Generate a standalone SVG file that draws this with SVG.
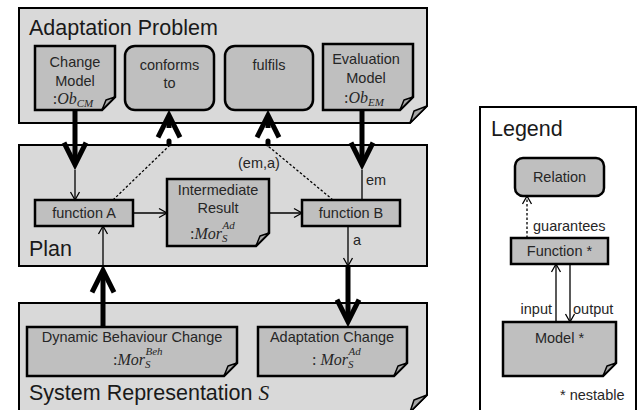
<svg xmlns="http://www.w3.org/2000/svg" width="638" height="410" viewBox="0 0 638 410">
<defs>
<style>
.cont{fill:#d9d9d9;stroke:#000;stroke-width:2}
.node{fill:#bfbfbf;stroke:#000;stroke-width:2.5;stroke-linejoin:miter}
.fold{fill:#a6a6a6;stroke:#000;stroke-width:1.5;stroke-linejoin:round}
.t{font-family:"Liberation Sans",Arial,sans-serif;font-size:14.5px;fill:#262626}
.title{font-family:"Liberation Sans",Arial,sans-serif;font-size:21.5px;fill:#1a1a1a}
.m{font-family:"Liberation Serif","Times New Roman",serif;font-size:16px;font-style:italic;fill:#262626}
.thick{fill:none;stroke:#000;stroke-width:5}
.thin{fill:none;stroke:#000;stroke-width:1.3}
.dot{fill:none;stroke:#000;stroke-width:1.3;stroke-dasharray:2.5 2}
</style>
<marker id="big" markerUnits="userSpaceOnUse" orient="auto" markerWidth="1" markerHeight="1" refX="0" refY="0" overflow="visible">
<path d="M-19.4,-11 L2.6,0 L-19.4,11" fill="none" stroke="#000" stroke-width="5" stroke-linejoin="miter"/>
</marker>
<marker id="sm" markerUnits="userSpaceOnUse" orient="auto" markerWidth="1" markerHeight="1" refX="0" refY="0" overflow="visible">
<path d="M-8,-4.5 L0,0 L-8,4.5" fill="none" stroke="#000" stroke-width="1.3"/>
</marker>
</defs>
<rect width="638" height="410" fill="#fff"/>

<g id="adaptation-problem">
<path class="cont" d="M19,8 H427 V106 L410,123 H19 Z"/>
<path class="fold" d="M410,123 L414,111 L427,106 Z"/>
<text class="title" x="29" y="35">Adaptation Problem</text>
</g>
<g id="plan">
<rect class="cont" x="19" y="145" width="408" height="121"/>
<text class="title" x="29" y="256">Plan</text>
</g>
<g id="system-representation">
<path class="cont" d="M19,303 H427 V395 L410,412 H19 Z"/>
<path class="fold" d="M410,412 L414,400 L427,395 Z"/>
<text class="title" x="29" y="400">System Representation <tspan font-family="Liberation Serif,serif" font-style="italic">S</tspan></text>
</g>

<g id="change-model">
<path class="node" d="M35,46 H115 V97 L102,110 H35 Z"/>
<path class="fold" d="M102,110 L106,100 L115,97 Z"/>
<text class="t" text-anchor="middle" x="75" y="67">Change</text>
<text class="t" text-anchor="middle" x="75" y="86">Model</text>
<text class="m" text-anchor="middle" x="73" y="104"><tspan font-style="normal">:</tspan>Ob<tspan font-size="11" dy="3">CM</tspan></text>
</g>
<g id="conforms-to">
<rect class="node" x="125" y="46" width="89" height="64" rx="10"/>
<text class="t" text-anchor="middle" x="169.5" y="70">conforms</text>
<text class="t" text-anchor="middle" x="169.5" y="88">to</text>
</g>
<g id="fulfils">
<rect class="node" x="225" y="46" width="88" height="64" rx="10"/>
<text class="t" text-anchor="middle" x="269" y="70">fulfils</text>
</g>
<g id="evaluation-model">
<path class="node" d="M323,44 H413 V97 L400,110 H323 Z"/>
<path class="fold" d="M400,110 L404,100 L413,97 Z"/>
<text class="t" text-anchor="middle" x="366" y="64">Evaluation</text>
<text class="t" text-anchor="middle" x="366" y="83">Model</text>
<text class="m" text-anchor="middle" x="364" y="103"><tspan font-style="normal">:</tspan>Ob<tspan font-size="11" dy="3">EM</tspan></text>
</g>

<g id="function-a">
<rect class="node" x="35" y="200" width="98" height="26"/>
<text class="t" text-anchor="middle" x="84" y="218">function A</text>
</g>
<g id="intermediate-result">
<path class="node" d="M167,179 H269 V233 L256,246 H167 Z"/>
<path class="fold" d="M256,246 L260,236 L269,233 Z"/>
<text class="t" text-anchor="middle" x="218" y="195">Intermediate</text>
<text class="t" text-anchor="middle" x="218" y="213">Result</text>
<text class="m" x="190" y="239"><tspan font-style="normal">:</tspan>Mor<tspan font-size="11" dy="3">S</tspan><tspan font-size="11" dx="-5" dy="-13">Ad</tspan></text>
</g>
<g id="function-b">
<rect class="node" x="302" y="200" width="98" height="26"/>
<text class="t" text-anchor="middle" x="351" y="218">function B</text>
</g>

<g id="dynamic-behaviour-change">
<path class="node" d="M27,327 H237 V363 L224,376 H27 Z"/>
<path class="fold" d="M224,376 L228,366 L237,363 Z"/>
<text class="t" text-anchor="middle" x="132" y="342">Dynamic Behaviour Change</text>
<text class="m" x="113" y="365"><tspan font-style="normal">:</tspan>Mor<tspan font-size="11" dy="3">S</tspan><tspan font-size="11" dx="-5" dy="-13">Beh</tspan></text>
</g>
<g id="adaptation-change">
<path class="node" d="M258,327 H407 V363 L394,376 H258 Z"/>
<path class="fold" d="M394,376 L398,366 L407,363 Z"/>
<text class="t" text-anchor="middle" x="332" y="342">Adaptation Change</text>
<text class="m" x="312" y="365"><tspan font-style="normal">: </tspan>Mor<tspan font-size="11" dy="3">S</tspan><tspan font-size="11" dx="-5" dy="-13">Ad</tspan></text>
</g>

<g id="legend">
<rect fill="#fff" stroke="#000" stroke-width="2" x="480" y="107" width="156" height="306"/>
<text class="title" x="491" y="136" font-size="20">Legend</text>
<g id="legend-relation">
<rect class="node" x="515" y="158" width="89" height="38" rx="8"/>
<text class="t" text-anchor="middle" x="559.5" y="182">Relation</text>
</g>
<g id="legend-function">
<rect class="node" x="511" y="238" width="97" height="26"/>
<text class="t" text-anchor="middle" x="559.5" y="256">Function *</text>
</g>
<g id="legend-model">
<path class="node" d="M503,322 H616 V363 L603,376 H503 Z"/>
<path class="fold" d="M603,376 L607,366 L616,363 Z"/>
<text class="t" text-anchor="middle" x="559.5" y="343">Model *</text>
</g>
<text class="t" x="560" y="400">* nestable</text>
</g>

<g id="connectors">
<path class="thick" d="M75,110 V162" marker-end="url(#big)"/>
<path class="thin" d="M75,170 V200" marker-end="url(#sm)"/>
<path class="thick" d="M362,110 V162" marker-end="url(#big)"/>
<path class="thin" d="M362,170 V200"/>
<text class="t" x="366" y="185">em</text>
<path class="thin" d="M348,226 V266" marker-end="url(#sm)"/>
<text class="t" x="353" y="245">a</text>
<path class="thick" d="M348,266 V319" marker-end="url(#big)"/>
<path class="thick" d="M103,327 V273" marker-end="url(#big)"/>
<path class="thin" d="M103,266 V226" marker-end="url(#sm)"/>
<path class="dot" d="M113,200 L169,146"/>
<path class="thick" stroke-linecap="round" d="M169,141 V144"/>
<path class="thick" d="M169,128 V118" marker-end="url(#big)"/>
<path class="dot" d="M333,200 L268,146"/>
<path class="thick" stroke-linecap="round" d="M268,141 V144"/>
<path class="thick" d="M268,128 V118" marker-end="url(#big)"/>
<text class="t" x="238" y="168">(em,a)</text>
<path class="thin" d="M133,213 H167" marker-end="url(#sm)"/>
<path class="thin" d="M269,213 H302" marker-end="url(#sm)"/>
<path class="dot" d="M527,238 V196" marker-end="url(#sm)"/>
<text class="t" x="533" y="231">guarantees</text>
<path class="thin" d="M556,322 V264" marker-end="url(#sm)"/>
<text class="t" x="552" y="314" text-anchor="end">input</text>
<path class="thin" d="M570,264 V322" marker-end="url(#sm)"/>
<text class="t" x="573" y="314">output</text>
</g>
</svg>
